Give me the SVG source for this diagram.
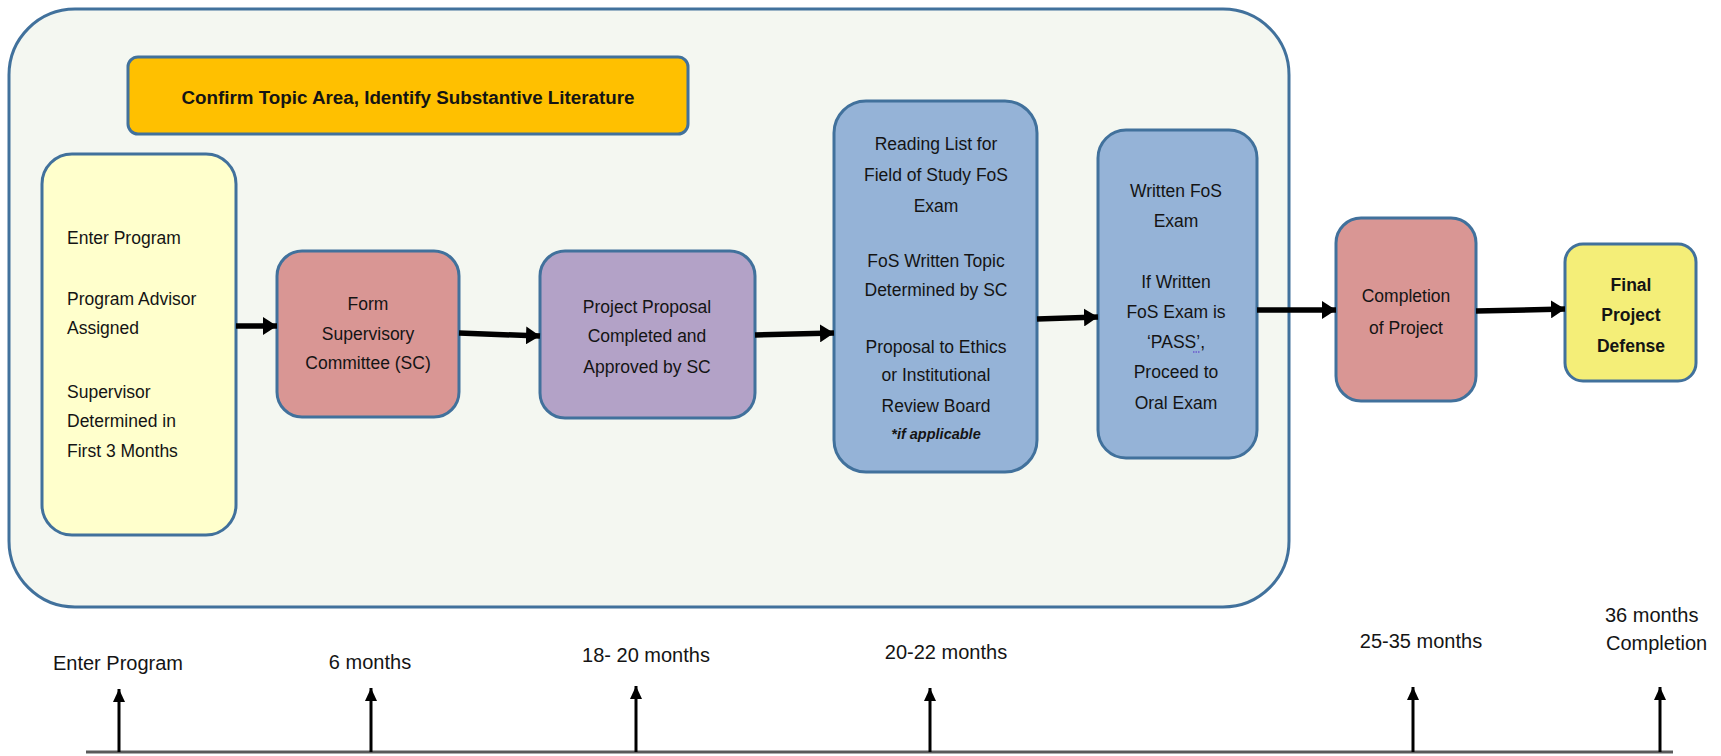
<svg xmlns="http://www.w3.org/2000/svg" width="1721" height="756" viewBox="0 0 1721 756">
<style>
.box{stroke:#41719C;stroke-width:3}
.t{font-family:"Liberation Sans",Arial,sans-serif;font-size:17.5px;fill:#141414}
.c{text-anchor:middle}
.b{font-weight:bold}
.tl{font-family:"Liberation Sans",Arial,sans-serif;font-size:20px;fill:#141414}
.conn{stroke:#000;stroke-width:5.5;fill:none;marker-end:url(#ah)}
.tick{stroke:#000;stroke-width:3;fill:none;marker-end:url(#th)}
</style>
<defs>
<marker id="ah" markerUnits="userSpaceOnUse" markerWidth="14" markerHeight="18" refX="14" refY="9" orient="auto">
<path d="M0,0 L14,9 L0,18 z" fill="#000"/>
</marker>
<marker id="th" markerUnits="userSpaceOnUse" markerWidth="13" markerHeight="12" refX="13" refY="6" orient="auto">
<path d="M0,0 L13,6 L0,12 z" fill="#000"/>
</marker>
</defs>
<rect width="1721" height="756" fill="#fff"/>
<g id="container">
<rect class="box" x="9" y="9" width="1280" height="598" rx="66" ry="66" fill="#F4F7F1"/>
</g>
<g id="topic">
<rect class="box" x="128" y="57" width="560" height="77" rx="10" fill="#FFC000"/>
<text class="t c b" x="408" y="104" style="font-size:18.8px">Confirm Topic Area, Identify Substantive Literature</text>
</g>
<g id="enter">
<rect class="box" x="42" y="154" width="194" height="381" rx="30" fill="#FFFFCC"/>
<text class="t" x="67" y="244">Enter Program</text>
<text class="t" x="67" y="305">Program Advisor</text>
<text class="t" x="67" y="334">Assigned</text>
<text class="t" x="67" y="398">Supervisor</text>
<text class="t" x="67" y="427">Determined in</text>
<text class="t" x="67" y="457">First 3 Months</text>
</g>
<g id="form">
<rect class="box" x="277" y="251" width="182" height="166" rx="25" fill="#D99694"/>
<text class="t c" x="368" y="310">Form</text>
<text class="t c" x="368" y="340">Supervisory</text>
<text class="t c" x="368" y="369">Committee (SC)</text>
</g>
<g id="proposal">
<rect class="box" x="540" y="251" width="215" height="167" rx="25" fill="#B3A2C7"/>
<text class="t c" x="647" y="313">Project Proposal</text>
<text class="t c" x="647" y="342">Completed and</text>
<text class="t c" x="647" y="373">Approved by SC</text>
</g>
<g id="reading">
<rect class="box" x="834" y="101" width="203" height="371" rx="32" fill="#95B3D7"/>
<text class="t c" x="936" y="150">Reading List for</text>
<text class="t c" x="936" y="181">Field of Study FoS</text>
<text class="t c" x="936" y="212">Exam</text>
<text class="t c" x="936" y="267">FoS Written Topic</text>
<text class="t c" x="936" y="296">Determined by SC</text>
<text class="t c" x="936" y="353">Proposal to Ethics</text>
<text class="t c" x="936" y="381">or Institutional</text>
<text class="t c" x="936" y="412">Review Board</text>
<text class="t c b" x="936" y="439" style="font-style:italic;font-size:14.5px">*if applicable</text>
</g>
<g id="written">
<rect class="box" x="1098" y="130" width="159" height="328" rx="28" fill="#95B3D7"/>
<text class="t c" x="1176" y="197">Written FoS</text>
<text class="t c" x="1176" y="227">Exam</text>
<text class="t c" x="1176" y="288">If Written</text>
<text class="t c" x="1176" y="318">FoS Exam is</text>
<text class="t c" x="1176" y="348">‘PASS’,</text>
<line x1="1193" y1="352" x2="1200" y2="352" stroke="#6A5ACD" stroke-width="1.5" stroke-dasharray="1.5,1"/>
<text class="t c" x="1176" y="378">Proceed to</text>
<text class="t c" x="1176" y="409">Oral Exam</text>
</g>
<g id="completion">
<rect class="box" x="1336" y="218" width="140" height="183" rx="25" fill="#D99694"/>
<text class="t c" x="1406" y="302">Completion</text>
<text class="t c" x="1406" y="334">of Project</text>
</g>
<g id="defense">
<rect class="box" x="1565" y="244" width="131" height="137" rx="18" fill="#F4EE78"/>
<text class="t c b" x="1631" y="291">Final</text>
<text class="t c b" x="1631" y="321">Project</text>
<text class="t c b" x="1631" y="352">Defense</text>
</g>
<g id="connectors">
<line class="conn" x1="236" y1="326" x2="277" y2="326"/>
<line class="conn" x1="459" y1="333" x2="540" y2="336"/>
<line class="conn" x1="755" y1="335" x2="834" y2="333"/>
<line class="conn" x1="1037" y1="319" x2="1098" y2="317"/>
<line class="conn" x1="1257" y1="310" x2="1336" y2="310"/>
<line class="conn" x1="1476" y1="311" x2="1565" y2="309"/>
</g>
<g id="timeline">
<line x1="86" y1="752" x2="1673" y2="752" stroke="#5a5a5a" stroke-width="3"/>
<line class="tick" x1="119" y1="752" x2="119" y2="689"/>
<line class="tick" x1="371" y1="752" x2="371" y2="688"/>
<line class="tick" x1="636" y1="752" x2="636" y2="686"/>
<line class="tick" x1="930" y1="752" x2="930" y2="688"/>
<line class="tick" x1="1413" y1="752" x2="1413" y2="687"/>
<line class="tick" x1="1660" y1="752" x2="1660" y2="687"/>
<text class="tl c" x="118" y="670">Enter Program</text>
<text class="tl c" x="370" y="669">6 months</text>
<text class="tl c" x="646" y="662">18- 20 months</text>
<text class="tl c" x="946" y="659">20-22 months</text>
<text class="tl c" x="1421" y="648">25-35 months</text>
<text class="tl" x="1605" y="622">36 months</text>
<text class="tl" x="1606" y="650">Completion</text>
</g>
</svg>
